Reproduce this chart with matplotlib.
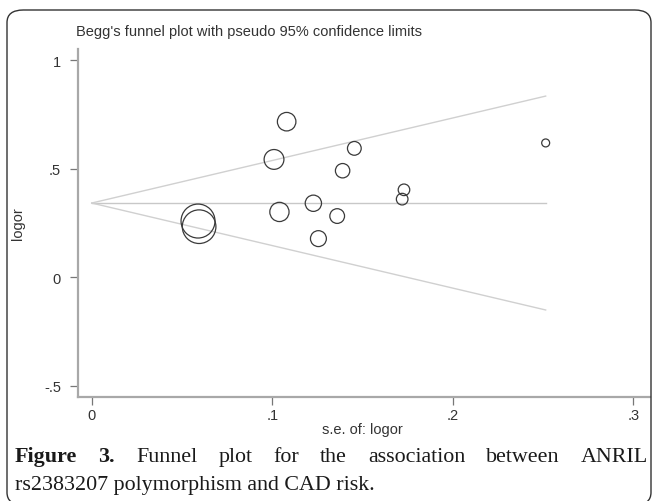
import matplotlib
matplotlib.use("Agg")
import matplotlib.pyplot as plt
from matplotlib.patches import FancyBboxPatch
import numpy as np

# ---- data ----
se = [0.0589, 0.0595, 0.101, 0.104, 0.108, 0.1228, 0.1256, 0.136, 0.139, 0.1455, 0.172, 0.173, 0.2515]
logor = [0.258, 0.232, 0.542, 0.300, 0.716, 0.340, 0.177, 0.281, 0.490, 0.593, 0.359, 0.402, 0.618]
pooled = 0.341
xticks = [0, 0.1, 0.2, 0.3]
xticklabels = ["0", ".1", ".2", ".3"]
yticks = [-0.5, 0, 0.5, 1]
yticklabels = ["-.5", "0", ".5", "1"]
title = "Begg's funnel plot with pseudo 95% confidence limits"
xlabel = "s.e. of: logor"
ylabel = "logor"
cap_line1_bold = ["Figure", "3."]
cap_line1 = ["Funnel", "plot", "for", "the", "association", "between", "ANRIL"]
cap_line2 = "rs2383207 polymorphism and CAD risk."

W, H, DPI = 655, 502, 100
fig = plt.figure(figsize=(W / DPI, H / DPI), dpi=DPI)
fig.patch.set_facecolor("white")

# rounded frame (bottom edge falls just outside the picture)
frame = FancyBboxPatch((7 / W, 1 - 506 / H), (651 - 7) / W, (506 - 11) / H,
                       boxstyle="round,pad=0,rounding_size=0.025",
                       transform=fig.transFigure, fill=False,
                       edgecolor="#333333", linewidth=1.0)
fig.patches.append(frame)

ax = fig.add_axes([77.7 / W, 1 - 398 / H, (650 - 77.7) / W, (398 - 50) / H])
ax.set_xlim(-0.00776, 0.3093)
ax.set_ylim(-0.553, 1.051)

se_arr = np.array(se)
lg = np.array(logor)
maxse = se_arr.max()
xs = np.array([0, maxse])
ax.plot(xs, [pooled, pooled], color="#c8c8c8", lw=1.0, zorder=1)
ax.plot(xs, pooled + 1.96 * xs, color="#d0d0d0", lw=1.0, zorder=1)
ax.plot(xs, pooled - 1.96 * xs, color="#d0d0d0", lw=1.0, zorder=1)

# marker radius (px) proportional to 1/se
r_px = 1.0 / se_arr
s = (2 * r_px * 72 / DPI) ** 2
ax.scatter(se_arr, lg, s=s, facecolors="none", edgecolors="#3a3a3a",
           linewidths=0.9, zorder=3)

for sp in ["top", "right"]:
    ax.spines[sp].set_visible(False)
for sp in ["left", "bottom"]:
    ax.spines[sp].set_color("#a8a8a8")
    ax.spines[sp].set_linewidth(1.6)

ax.set_xticks(xticks)
ax.set_xticklabels(xticklabels)
ax.set_yticks(yticks)
ax.set_yticklabels(yticklabels)
ax.tick_params(axis="both", length=6, width=0.9, color="#777777",
               labelcolor="#333333", labelsize=10.5, pad=2,
               labelfontfamily="Liberation Sans")
ax.tick_params(axis="y", pad=6)

fig.text(362 / W, 1 - 430 / H, xlabel, ha="center", va="center",
         fontsize=10.5, color="#333333", family="Liberation Sans")
fig.text(18 / W, 1 - 224 / H, ylabel, ha="center", va="center",
         rotation=90, fontsize=10.5, color="#333333", family="Liberation Sans")
fig.text(76 / W, 1 - 32 / H, title, ha="left", va="center",
         fontsize=10.5, color="#333333", family="Liberation Sans")

# caption, justified first line
fig.canvas.draw()
renderer = fig.canvas.get_renderer()
cap_fs = 15.8
left_px, right_px = 15, 648
words = [(w, "bold") for w in cap_line1_bold] + [(w, "normal") for w in cap_line1]
texts = []
for w, wt in words:
    t = fig.text(0, 1 - 462 / H, w, ha="left", va="baseline", fontsize=cap_fs,
                 family="Liberation Serif", fontweight=wt, color="#1a1a1a")
    texts.append(t)
widths = [t.get_window_extent(renderer).width for t in texts]
gap = (right_px - left_px - sum(widths)) / (len(texts) - 1)
x = left_px
for t, wd in zip(texts, widths):
    t.set_x(x / W)
    x += wd + gap

fig.text(left_px / W, 1 - 490 / H, cap_line2, ha="left", va="baseline",
         fontsize=cap_fs, family="Liberation Serif", color="#1a1a1a")

fig.savefig("out.png", dpi=DPI, facecolor="white")
